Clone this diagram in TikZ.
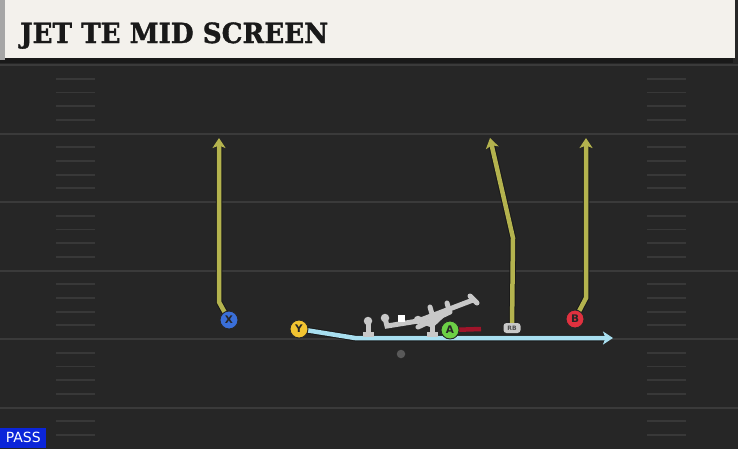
\documentclass[tikz,border=0pt]{standalone}
\usepackage{fontspec}
\setsansfont{DejaVu Sans}
\newfontfamily\titlefont[FakeBold=1.4]{DejaVu Serif Bold}
\usetikzlibrary{arrows.meta,positioning}
\definecolor{field}{HTML}{262626}
\definecolor{yardln}{HTML}{3A3A3A}
\definecolor{hashln}{HTML}{383838}
\definecolor{header}{HTML}{F3F1EC}
\definecolor{routeyel}{HTML}{B4B34E}
\definecolor{motion}{HTML}{A8DFF0}
\definecolor{xblue}{HTML}{3A6FD8}
\definecolor{yyel}{HTML}{F2C431}
\definecolor{agreen}{HTML}{6CD046}
\definecolor{bred}{HTML}{E0313F}
\definecolor{blockbar}{HTML}{A0142A}
\definecolor{oline}{HTML}{C8C8C8}
\definecolor{passblue}{HTML}{0B25D9}
\pgfdeclarelayer{bg}
\pgfdeclarelayer{routes}
\pgfsetlayers{bg,routes,main}

\begin{document}
\begin{tikzpicture}[x=1pt,y=-1pt,>={Stealth[length=10pt,width=13pt,inset=2.5pt]},
    player/.style={circle,draw=black!85,line width=0.9pt,minimum size=18pt,inner sep=0pt,
      font=\sffamily\bfseries\fontsize{10.5}{10.5}\selectfont,text=black!85},
    route/.style={line width=4.5pt,color=routeyel,->,
      preaction={draw=black!90,line width=6.5pt}},
    jetmotion/.style={route,color=motion},
    lineman/.style={line width=5pt,color=oline,line cap=round},
    joint/.style={circle,fill=oline,minimum size=8.5pt,inner sep=0pt}]
  \useasboundingbox (0,0) rectangle (738,448);
  % field and header
  \begin{pgfonlayer}{bg}
    \fill[field] (-2,-2) rectangle (740,451);
    \foreach \k in {0,...,5} {
      \draw[yardln,line width=2pt] (-2,65+68.5*\k) -- (740,65+68.5*\k);
      \foreach \j in {1,...,4} {
        \pgfmathsetmacro\hy{65+68.5*\k+13.7*\j}
        \ifdim\hy pt<446pt
          \draw[hashln,line width=1.8pt] (56,\hy) -- (95,\hy);
          \draw[hashln,line width=1.8pt] (647,\hy) -- (686,\hy);
        \fi
      }
    }
    \fill[black!90] (-2,58) rectangle (733,63);
    \fill[black!35] (-2,-2) rectangle (5,60);
    \fill[header] (5,-2) rectangle (735,58);
  \end{pgfonlayer}
  \node[anchor=base west,inner sep=0pt,text=black!90] (title) at (20,43)
    {\scalebox{0.97}[1.03]{\titlefont\fontsize{27}{27}\selectfont JET TE MID SCREEN}};

  % players
  \node[player,fill=xblue] (X) at (229,320) {X};
  \node[player,fill=yyel] (Y) at (299,329) {Y};
  \node[player,fill=agreen] (A) at (450,330) {A};
  \node[player,fill=bred] (B) at (575,319) {B};
  \node[fill=oline,rounded corners=3pt,inner sep=1.5pt,minimum width=17pt,minimum height=10pt,
    font=\sffamily\bfseries\fontsize{6}{6}\selectfont,text=black!70] (RB) at (512,328) {RB};
  \node[circle,fill=gray!70!black,minimum size=8.5pt,inner sep=0pt] (ball) at (401,354) {};

  % route turn points
  \coordinate (xbrk) at (219,302);
  \coordinate (xend) at (219,138);
  \coordinate (rbbrk) at (513,238);
  \coordinate (rbend) at (490,138);
  \coordinate (bbrk) at (586,298);
  \coordinate (bend) at (586,138);
  \coordinate (ybrk) at (355,338);
  \coordinate (yend) at (613,338);

  \begin{pgfonlayer}{routes}
    \draw[route] (X.center) -- (xbrk) -- (xend);
    \draw[route] (RB.center) -- (rbbrk) -- (rbend);
    \draw[route] (B.center) -- (bbrk) -- (bend);
    \draw[jetmotion] (Y.center) -- (ybrk) -- (yend);
    \draw[blockbar,line width=4.5pt] (A.center) -- (481,329);
  \end{pgfonlayer}

  % blocking graphic
  \node[joint] (lt) at (368,321) {};
  \draw[lineman] (lt.center) -- (368,333);
  \draw[lineman,line cap=butt] (363,334) -- (374,334);
  \node[joint] (lg) at (385,318) {};
  \draw[lineman] (lg.center) -- (387,326) -- (418,321) -- (473,300);
  \draw[lineman] (470,296) -- (477,303);
  \node[joint] (cn) at (418,320) {};
  \draw[lineman] (cn.center) -- (432,325) -- (448,310);
  \draw[lineman] (418,327) -- (450,312);
  \draw[lineman] (430,307) -- (432,314);
  \draw[lineman] (447,303) -- (449,310);
  \draw[lineman] (432,325) -- (432,333);
  \draw[lineman,line cap=butt] (427,334) -- (438,334);
  \fill[white] (398,315) rectangle (405,322);

  % play type
  \node[fill=passblue,text=white,anchor=south west,inner sep=0pt,minimum width=46pt,minimum height=20pt,
    font=\sffamily\fontsize{14}{14}\selectfont] (pass) at (0,448) {PASS};
\end{tikzpicture}
\end{document}
